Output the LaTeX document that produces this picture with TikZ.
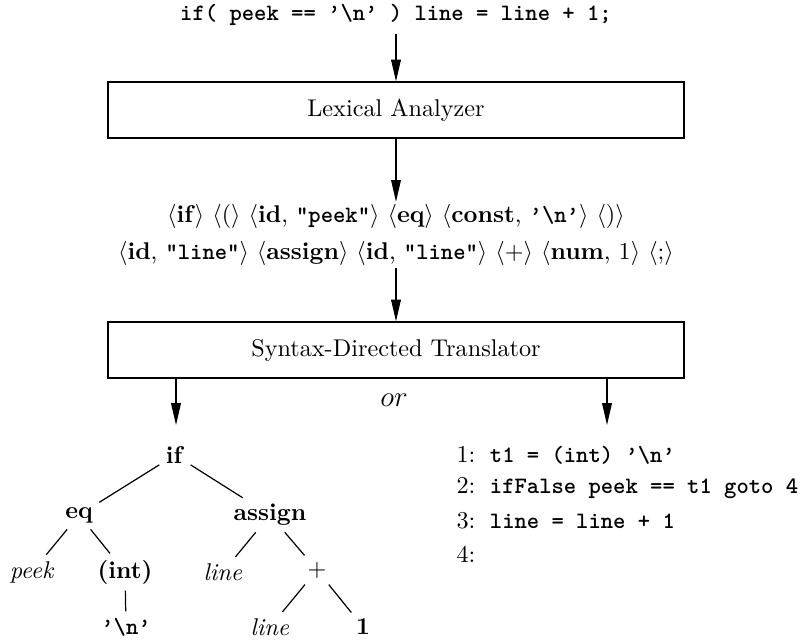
\documentclass[tikz,border=0pt]{standalone}
\usetikzlibrary{arrows.meta}
\newcommand{\bcode}[1]{{\fontsize{9.7pt}{11pt}\selectfont\ttfamily\bfseries #1}}
\newcommand{\tokn}[1]{$\langle$#1$\rangle$}
\tikzset{
  stage/.style={draw, line width=0.6pt, minimum width=238pt, minimum height=23pt},
  arr/.style={line width=0.5pt, -{Triangle[length=9pt,width=4pt]}},
  tnode/.style={inner sep=2.5pt},
  twig/.style={line width=0.5pt}
}
\begin{document}
\begin{tikzpicture}[x=0.413pt,y=-0.413pt]
	\useasboundingbox (0,0) rectangle (800,639);
	\node (src) at (396,15) {\bcode{if( peek == ’\textbackslash n’ ) line = line + 1;}};
	\node[stage] (lex) at (396,110) {Lexical Analyzer};
	\node[align=center, inner sep=1pt] (toks) at (396,235) {\tokn{\textbf{if}} \tokn{(} \tokn{\textbf{id}, \bcode{"peek"}} \tokn{\textbf{eq}} \tokn{\textbf{const}, \bcode{’\textbackslash n’}} \tokn{)}\\[3pt]
		\tokn{\textbf{id}, \bcode{"line"}} \tokn{\textbf{assign}} \tokn{\textbf{id}, \bcode{"line"}} \tokn{+} \tokn{\textbf{num}, 1} \tokn{;}};
	\node[stage] (sdt) at (396,350) {Syntax-Directed Translator};
	\draw[arr] (src) -- (lex);
	\draw[arr] (lex) -- (toks);
	\draw[arr] (toks) -- (sdt);
	\coordinate (ltip) at (176,425);
	\coordinate (rtip) at (607,425);
	\draw[arr] (sdt.south -| ltip) -- (ltip);
	\draw[arr] (sdt.south -| rtip) -- (rtip);
	\node (or) at (394,400) {\large$or$};
	% syntax tree
	\node[tnode] (tif) at (175,455) {\textbf{if}};
	\node[tnode] (teq) at (79,515) {\textbf{eq}};
	\node[tnode] (tassign) at (270,515) {\textbf{assign}};
	\node[tnode] (tpeek) at (32,572) {\textit{peek}};
	\node[tnode] (tint) at (125,572) {\textbf{(int)}};
	\node[tnode] (tnl) at (126,627) {\bcode{’\textbackslash n’}};
	\node[tnode] (tline) at (223,572) {\textit{line}};
	\node[tnode] (tplus) at (317,570) {$+$};
	\node[tnode] (tline2) at (270,627) {\textit{line}};
	\node[tnode] (tone) at (363,627) {\textbf{1}};
	\draw[twig] (tif) -- (teq);
	\draw[twig] (tif) -- (tassign);
	\draw[twig] (teq) -- (tpeek);
	\draw[twig] (teq) -- (tint);
	\draw[twig] (tint) -- (tnl);
	\draw[twig] (tassign) -- (tline);
	\draw[twig] (tassign) -- (tplus);
	\draw[twig] (tplus) -- (tline2);
	\draw[twig] (tplus) -- (tone);
	% three-address code
	\node[anchor=west] (c1) at (448,455) {1:\hspace{6pt}\bcode{t1 = (int) ’\textbackslash n’}};
	\node[anchor=west] (c2) at (448,488) {2:\hspace{6pt}\bcode{ifFalse peek == t1 goto 4}};
	\node[anchor=west] (c3) at (448,521) {3:\hspace{6pt}\bcode{line = line + 1}};
	\node[anchor=west] (c4) at (448,554) {4:};
\end{tikzpicture}
\end{document}
